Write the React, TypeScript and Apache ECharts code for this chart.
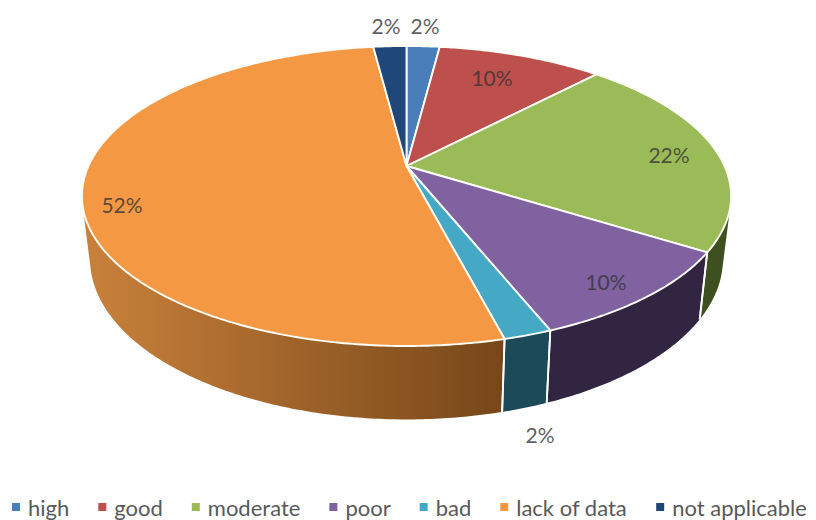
import React, { useEffect, useRef } from "react";
import * as echarts from "echarts";

// Shares of the assessment classes, in percent, clockwise from twelve o'clock.
const categories = ["high", "good", "moderate", "poor", "bad", "lack of data", "not applicable"];
const shares = [2, 10, 22, 10, 2, 52, 2];
const shareLabels = ["2%", "10%", "22%", "10%", "2%", "52%", "2%"];

const topColors = ["#4a7ebb", "#bd4f4c", "#9bbb59", "#8062a0", "#45a9c6", "#f59843", "#1f477a"];
const wallColors = ["#254060", "#6e2b29", "#3f5020", "#322541", "#1c4a58", "#c9813b", "#152f50"];
const wallShadeEnd = "#774719"; // right-hand end of the shaded orange wall

// Perspective of the tilted disc: apex of the slices and its projection scales.
const APEX_X = 406.5;
const APEX_Y = 166;
const SCALE_X = 318;
const SCALE_Y = 144;
const TILT = 0.2;
// The lower rim is a slightly narrower, shifted and stretched copy of the upper one.
const RIM_SCALE_X = 0.975;
const RIM_SCALE_Y = 1.069;
const RIM_SHIFT_Y = 61;

// Where each percentage sits in the chart (text centre).
const labelAnchors = [
  [425, 25],
  [492, 77],
  [669, 154],
  [606, 281],
  [540, 434],
  [122, 204],
  [386, 25],
];

const TEXT_COLOR = "rgba(52,52,52,0.8)";
const FONT = "Lato, Carlito, 'Noto Sans', sans-serif";

type Pt = [number, number];

// Maps a pie angle (radians, clockwise from the top) to the upper rim.
function upperRim(angle: number): Pt {
  const u = Math.sin(angle);
  const v = -Math.cos(angle);
  const d = 1 - TILT * v;
  return [APEX_X + (SCALE_X * u) / d, APEX_Y + (SCALE_Y * v) / d];
}

function lowerRim(angle: number): Pt {
  const [x, y] = upperRim(angle);
  return [
    APEX_X + (x - APEX_X) * RIM_SCALE_X,
    APEX_Y + RIM_SHIFT_Y + (y - APEX_Y) * RIM_SCALE_Y,
  ];
}

// The side wall shows only where the rim's outer side faces the viewer.
function wallFaces(angle: number): boolean {
  const e = 0.002;
  const a = upperRim(angle - e);
  const b = upperRim(angle + e);
  const t = upperRim(angle);
  const l = lowerRim(angle);
  return (b[0] - a[0]) * (l[1] - t[1]) - (b[1] - a[1]) * (l[0] - t[0]) < 0;
}

function sampleAngles(from: number, to: number): number[] {
  const steps = Math.max(4, Math.ceil((to - from) * 90));
  const list: number[] = [];
  for (let i = 0; i <= steps; i++) list.push(from + ((to - from) * i) / steps);
  return list;
}

const starts = shares.map((_, i) => shares.slice(0, i).reduce((a, b) => a + b, 0));

function makeRenderItem(index: number) {
  return (_params: unknown, api: any) => {
    const from = (api.value(0) / 100) * Math.PI * 2;
    const to = ((api.value(0) + api.value(1)) / 100) * Math.PI * 2;
    const rim = sampleAngles(from, to);
    const children: any[] = [];

    const visible = rim.filter(wallFaces);
    if (visible.length > 1) {
      const fill =
        index === 5
          ? new echarts.graphic.LinearGradient(
              84, 0, 502, 0,
              [
                { offset: 0, color: wallColors[5] },
                { offset: 1, color: wallShadeEnd },
              ],
              true,
            )
          : wallColors[index];
      const outline = visible.map(upperRim).concat(visible.slice().reverse().map(lowerRim));
      children.push({
        type: "polygon",
        z2: 1,
        shape: { points: outline },
        style: { fill, stroke: "none" },
      });
      // White seams between neighbouring walls, only at true slice boundaries.
      [from, to].forEach((a) => {
        if (wallFaces(a)) {
          const p = upperRim(a);
          const q = lowerRim(a);
          children.push({
            type: "line",
            z2: 2,
            shape: { x1: p[0], y1: p[1], x2: q[0], y2: q[1] },
            style: { stroke: "#ffffff", lineWidth: 1.8 },
          });
        }
      });
    }

    children.push({
      type: "polygon",
      z2: 5,
      shape: { points: [[APEX_X, APEX_Y] as Pt].concat(rim.map(upperRim)) },
      style: { fill: topColors[index], stroke: "#fdfdf8", lineWidth: 1.9, lineJoin: "round" },
    });

    const [lx, ly] = labelAnchors[index];
    children.push({
      type: "text",
      z2: 10,
      x: lx,
      y: ly,
      style: {
        text: shareLabels[index],
        fill: TEXT_COLOR,
        font: `21px ${FONT}`,
        align: "center",
        verticalAlign: "middle",
      },
    });
    return { type: "group", children };
  };
}

export default function App() {
  const ref = useRef<HTMLDivElement>(null);

  useEffect(() => {
    const chart = echarts.init(ref.current!, undefined, { renderer: "svg" });
    chart.setOption({
      animation: false,
      backgroundColor: "#ffffff",
      color: topColors,
      legend: {
        left: 12,
        top: 496,
        padding: 0,
        itemWidth: 8,
        itemHeight: 8,
        itemGap: 29,
        icon: "rect",
        selectedMode: false,
        data: categories,
        textStyle: {
          color: "#595959",
          fontSize: 22,
          lineHeight: 21,
          fontFamily: FONT,
          padding: [0, 0, 0, 3],
        },
      },
      series: categories.map((name, i) => ({
        type: "custom",
        name,
        coordinateSystem: "none",
        silent: true,
        itemStyle: { color: topColors[i] },
        data: [[starts[i], shares[i]]],
        renderItem: makeRenderItem(i),
      })),
    });
    return () => chart.dispose();
  }, []);

  return <div ref={ref} style={{ position: "absolute", left: 0, top: 0, width: 816, height: 520 }} />;
}
